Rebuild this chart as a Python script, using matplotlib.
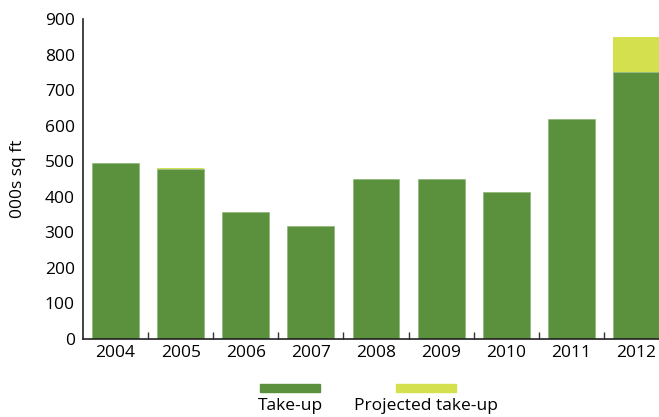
import matplotlib.pyplot as plt
from matplotlib.patches import Rectangle

plt.rcParams['font.family'] = ['Open Sans', 'DejaVu Sans']

years = ['2004', '2005', '2006', '2007', '2008', '2009', '2010', '2011', '2012']
take_up = [495, 478, 357, 318, 450, 450, 413, 619, 751]
projected = [0, 2, 0, 0, 0, 0, 0, 1, 99]

GREEN = '#5b913c'
YELLOW = '#d4e04e'
FS = 12.5

fig = plt.figure(figsize=(6.59, 4.17), dpi=100)
# axes run slightly past the right edge, so the last bar is clipped
ax = fig.add_axes([83 / 659, 1 - 339 / 417, 586 / 659, 320 / 417])

x = range(len(years))
ax.bar(x, take_up, width=0.72, color=GREEN, edgecolor='#8fb878', linewidth=0.5)
ax.bar(x, projected, bottom=take_up, width=0.72, color=YELLOW, linewidth=0)

ax.set_xlim(-0.5, len(years) - 0.5)
ax.set_ylim(0, 900)
ax.set_yticks(range(0, 901, 100))
ax.tick_params(axis='y', length=0, labelsize=FS, pad=6)

ax.set_xticks([i + 0.5 for i in range(len(years) - 1)])
ax.set_xticklabels([])
ax.set_xticks(list(x), labels=years, minor=True)
ax.tick_params(axis='x', which='major', direction='in', length=5, width=1, color='#333333')
ax.tick_params(axis='x', which='minor', length=0, labelsize=FS, pad=4)

for s in ['top', 'right']:
    ax.spines[s].set_visible(False)
for s in ['left', 'bottom']:
    ax.spines[s].set_linewidth(1.2)
    ax.spines[s].set_color('#222222')

fig.text(18 / 659, 1 - 179 / 417, '000s sq ft', rotation=90, ha='center', va='center', fontsize=FS)

# legend drawn as swatches with labels underneath
fig.add_artist(Rectangle((260 / 659, 1 - 392 / 417), 60 / 659, 8 / 417,
                         transform=fig.transFigure, color=GREEN))
fig.add_artist(Rectangle((396 / 659, 1 - 392 / 417), 60 / 659, 8 / 417,
                         transform=fig.transFigure, color=YELLOW))
fig.text(290 / 659, 1 - 406 / 417, 'Take-up', ha='center', va='center', fontsize=FS)
fig.text(426 / 659, 1 - 406 / 417, 'Projected take-up', ha='center', va='center', fontsize=FS)

fig.savefig('out.png', dpi=100)
